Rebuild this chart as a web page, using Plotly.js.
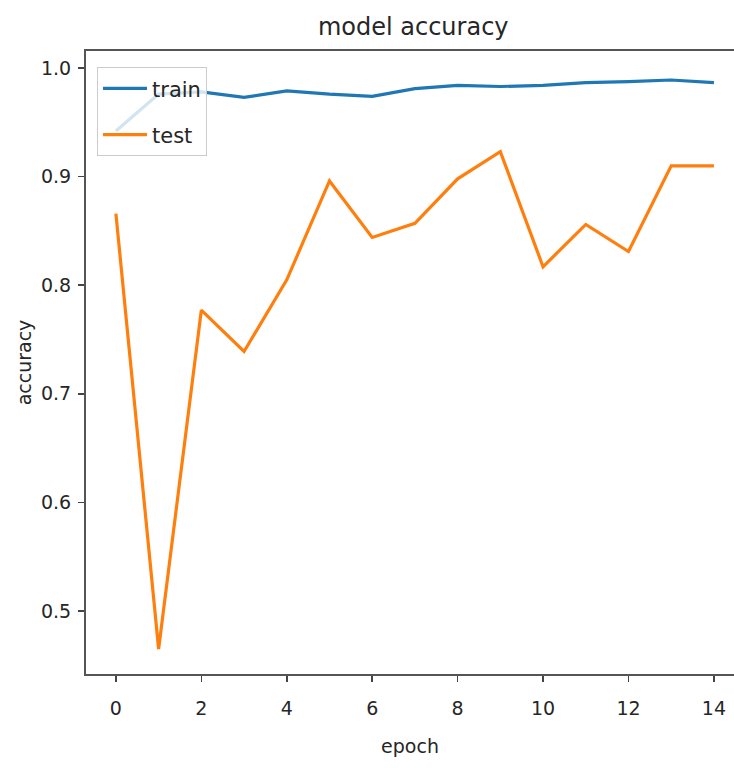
<!DOCTYPE html>
<html>
<head>
<meta charset="utf-8">
<script src="https://cdn.plot.ly/plotly-3.0.1.min.js"></script>
<style>
html, body { margin: 0; padding: 0; background: #fff; }
#chart { width: 734px; height: 768px; }
</style>
</head>
<body>
<div id="chart"></div>
<script>
const epochs = [0, 1, 2, 3, 4, 5, 6, 7, 8, 9, 10, 11, 12, 13, 14];
const trainAcc = [0.942, 0.976, 0.978, 0.973, 0.979, 0.976, 0.974, 0.981, 0.984, 0.983, 0.984, 0.9865, 0.9875, 0.989, 0.9865];
const testAcc = [0.866, 0.465, 0.777, 0.739, 0.805, 0.896, 0.844, 0.857, 0.898, 0.923, 0.817, 0.856, 0.831, 0.910, 0.910];
const seriesNames = ["train", "test"];
const xTicks = [0, 2, 4, 6, 8, 10, 12, 14];
const yTicks = [0.5, 0.6, 0.7, 0.8, 0.9, 1.0];
const yTickLabels = ["0.5", "0.6", "0.7", "0.8", "0.9", "1.0"];

const FONT = "DejaVu Sans, sans-serif";
const TXT = "#262626";

const traces = [
  { x: epochs, y: trainAcc, name: seriesNames[0], type: "scatter", mode: "lines",
    legendgroup: "a", line: { color: "#1f77b4", width: 3.2 } },
  { x: epochs, y: testAcc, name: seriesNames[1], type: "scatter", mode: "lines",
    legendgroup: "b", line: { color: "#ff7f0e", width: 3.2 } }
];

const layout = {
  width: 734, height: 768,
  margin: { l: 86, r: 0, t: 51, b: 94, autoexpand: false },
  paper_bgcolor: "#fff", plot_bgcolor: "#fff",
  font: { family: FONT, size: 19, color: TXT },
  title: { text: "model accuracy", font: { family: FONT, size: 24, color: TXT },
           xref: "paper", x: 0.505, xanchor: "center", yref: "container", y: 1 - 27 / 768, yanchor: "middle" },
  showlegend: true,
  legend: { x: 0.017, xanchor: "left", y: 0.974, yanchor: "top",
            bgcolor: "rgba(255,255,255,0.8)", bordercolor: "#cccccc", borderwidth: 1,
            font: { family: FONT, size: 21, color: TXT }, itemwidth: 44,
            traceorder: "grouped", tracegroupgap: 16 },
  xaxis: {
    range: [-0.7, 14.47], tickvals: xTicks, ticktext: xTicks.map(String),
    showgrid: false, zeroline: false, showline: true, mirror: true, linecolor: "#555", linewidth: 2,
    ticks: "outside", ticklen: 6, tickwidth: 1.5, tickcolor: "#444", ticklabelstandoff: 10,
    tickfont: { family: FONT, size: 19, color: TXT },
    title: { text: "epoch", font: { family: FONT, size: 19, color: TXT }, standoff: 22 }
  },
  yaxis: {
    range: [0.442, 1.0157], tickvals: yTicks, ticktext: yTickLabels,
    showgrid: false, zeroline: false, showline: true, mirror: false, linecolor: "#555", linewidth: 2,
    ticks: "outside", ticklen: 6, tickwidth: 1.5, tickcolor: "#444", ticklabelstandoff: 3,
    tickfont: { family: FONT, size: 19, color: TXT },
    title: { text: "accuracy", font: { family: FONT, size: 19, color: TXT }, standoff: 4 }
  }
};

Plotly.newPlot("chart", traces, layout, { displayModeBar: false, staticPlot: true });
</script>
</body>
</html>
